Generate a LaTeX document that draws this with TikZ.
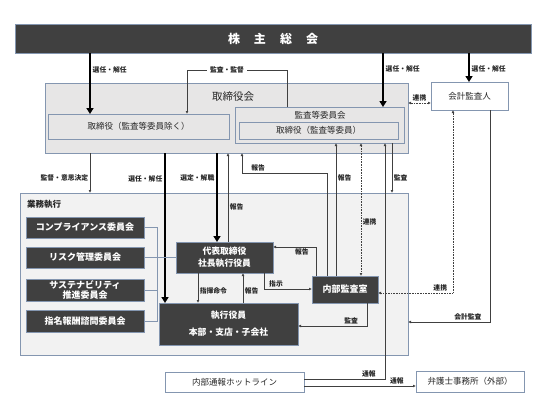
\documentclass[tikz,border=0pt]{standalone}
\usepackage{fontspec}
\setmainfont{Noto Sans CJK JP}
\usetikzlibrary{arrows.meta}
\definecolor{dark}{HTML}{404040}
\definecolor{bord}{HTML}{8496B0}
\definecolor{bfill}{HTML}{E7E6E6}
\definecolor{efill}{HTML}{F2F2F2}
\definecolor{ln}{HTML}{404040}
\definecolor{txt}{HTML}{262626}
\begin{document}
\begin{tikzpicture}[x=1pt,y=-1pt,
  box/.style={draw=bord, line width=0.8pt, anchor=north west, inner sep=0pt, outer sep=0pt,
    text=txt, font=\fontsize{8.5}{10}\selectfont, align=center},
  darkbox/.style={box, fill=dark, text=white, font=\fontsize{9}{10.5}\selectfont\bfseries},
  lbl/.style={font=\fontsize{6.8}{7}\selectfont\bfseries, text=txt, inner sep=1.5pt},
  conn/.style={draw=ln, line width=0.6pt, -{Latex[length=3pt,width=2.8pt]}},
  dconn/.style={draw=ln, line width=0.6pt, dash pattern=on 0.8pt off 0.8pt, {Latex[length=3pt,width=2.8pt]}-{Latex[length=3pt,width=2.8pt]}},
  thk/.style={draw=black, line width=2.4pt, -{Triangle[length=6pt,width=7pt]}},
  cline/.style={draw=bord, line width=0.7pt}
]
\useasboundingbox (0,0) rectangle (553,415);
\foreach \v in {90,157,165,187,198,217,228,242,243,264,287,316,327,336,361,367,383,385,392,453,469,490}
  \coordinate (X\v) at (\v,0);
\foreach \v in {70,103,173,247,289,293,322,326,379,386}
  \coordinate (Y\v) at (0,\v);

% boxes
\node[darkbox, minimum width=516pt, minimum height=29pt, font=\fontsize{12}{14}\selectfont\bfseries] (gm) at (15,24) {};
\node[text=white, font=\fontsize{12}{14}\selectfont\bfseries] (gmt) at (273,38.5) {株\hspace{14pt}主\hspace{14pt}総\hspace{14pt}会};

\node[box, fill=bfill, minimum width=363pt, minimum height=70pt] (board) at (45,83) {};
\node[font=\fontsize{10.5}{12}\selectfont, text=txt] (boardt) at (233,97) {取締役会};
\node[box, fill=bfill, minimum width=181pt, minimum height=25pt] (dir) at (48,114) {取締役（監査等委員除く）};
\node[box, fill=bfill, minimum width=169pt, minimum height=36pt] (ac) at (235,107) {};
\node[font=\fontsize{8.5}{10}\selectfont, text=txt] (act) at (320,115) {監査等委員会};
\node[box, fill=bfill, minimum width=159pt, minimum height=17pt] (acdir) at (239,122) {取締役（監査等委員）};
\node[box, fill=white, minimum width=77pt, minimum height=28pt] (auditor) at (431,82) {会計監査人};

\node[box, fill=efill, minimum width=388pt, minimum height=162pt] (exec) at (20,193) {};
\node[font=\fontsize{8.5}{10}\selectfont\bfseries, text=txt, anchor=west, inner sep=0pt] (exect) at (27,204) {業務執行};

\node[darkbox, minimum width=118pt, minimum height=21pt] (c1) at (26,217) {コンプライアンス委員会};
\node[darkbox, minimum width=118pt, minimum height=21pt] (c2) at (26,247) {リスク管理委員会};
\node[darkbox, minimum width=118pt, minimum height=22pt] (c3) at (26,279) {サステナビリティ\\推進委員会};
\node[darkbox, minimum width=118pt, minimum height=22pt] (c4) at (26,310) {指名報酬諮問委員会};

\node[darkbox, minimum width=97pt, minimum height=31pt, font=\fontsize{8.8}{12}\selectfont\bfseries] (ceo) at (176,242) {代表取締役\\社長執行役員};
\node[darkbox, minimum width=139pt, minimum height=42pt, font=\fontsize{8.8}{17}\selectfont\bfseries] (eo) at (159,303) {執行役員\\本部・支店・子会社};
\node[darkbox, minimum width=66pt, minimum height=27pt] (ia) at (312,276) {内部監査室};

\node[box, fill=white, minimum width=139pt, minimum height=20pt] (hot) at (165,372) {内部通報ホットライン};
\node[box, fill=white, minimum width=108pt, minimum height=21pt] (law) at (416,371) {弁護士事務所（外部）};

% thick arrows from general meeting
\draw[thk] (gm.south -| X90) -- node[lbl, pos=0.28, anchor=west] (l1) {選任・解任} (dir.north -| X90);
\draw[thk] (gm.south -| X383) -- node[lbl, pos=0.3, anchor=west] (l2) {選任・解任} (ac.north -| X383);
\draw[thk] (gm.south -| X469) -- node[lbl, pos=0.55, anchor=west] (l3) {選任・解任} (auditor.north -| X469);

% audit & supervise
\draw[conn] (ac.north -| X287) -- (X287 |- Y70) -- node[lbl, pos=0.6, fill=white, inner sep=3pt] (l4) {監査・監督} (X187 |- Y70) -- (dir.north -| X187);

% board <-> auditor
\draw[dconn] (board.east |- Y103) -- node[lbl, midway, anchor=south] (l5) {連携} (auditor.west |- Y103);

% board -> execution
\draw[conn] (board.south -| X90) -- node[lbl, pos=0.62, anchor=east] (l6) {監督・意思決定} (exec.north -| X90);
\draw[thk] (board.south -| X165) -- node[lbl, pos=0.17, anchor=east] (l7) {選任・解任} (eo.north -| X165);
\draw[thk] (board.south -| X217) -- node[lbl, pos=0.28, anchor=east] (l8) {選定・解職} (ceo.north -| X217);
\draw[conn] (ceo.north -| X228) -- node[lbl, pos=0.39, anchor=west] (l9) {報告} (board.south -| X228);
\draw[conn] (ia.north -| X327) -- (X327 |- Y173) -- node[lbl, pos=0.81, anchor=south] (l10) {報告} (X242 |- Y173) -- (board.south -| X242);
\draw[conn] (ia.north -| X336) -- node[lbl, pos=0.74, anchor=west] (l11) {報告} (ac.south -| X336);
\draw[dconn] (ia.north -| X361) -- node[lbl, pos=0.41, anchor=west] (l12) {連携} (ac.south -| X361);
\draw[conn] (hot.east |- Y379) -- node[lbl, pos=0.8, anchor=south] (l13) {通報} (X385 |- Y379) -- (ac.south -| X385);
\draw[conn] (ac.south -| X392) -- node[lbl, pos=0.7, anchor=west] (l14) {監査} (exec.north -| X392);

% auditor connections
\draw[dconn] (auditor.south -| X453) -- (X453 |- Y293) -- node[lbl, pos=0.17, anchor=south] (l15) {連携} (ia.east |- Y293);
\draw[conn] (auditor.south -| X490) -- (X490 |- Y322) -- node[lbl, pos=0.27, anchor=south] (l16) {会計監査} (exec.east |- Y322);

% committees
\draw[cline] (c1.east) -- (X157 |- c1.east) -- (X157 |- c4.east) -- (c4.east);
\draw[cline] (c3.east) -- (X157 |- c3.east);
\draw[cline] (c2.east) -- (ceo.west |- c2.east);

% execution internals
\draw[conn] (ceo.south -| X198) -- node[lbl, pos=0.6, anchor=west] (l18) {指揮命令} (eo.north -| X198);
\draw[conn] (eo.north -| X243) -- node[lbl, pos=0.4, anchor=west] (l19) {報告} (ceo.south -| X243);
\draw[conn] (ia.north -| X316) -- (X316 |- Y247) -- node[lbl, pos=0.33, anchor=north] (l20) {報告} (ceo.east |- Y247);
\draw[conn] (ceo.south -| X264) -- (X264 |- Y289) -- node[lbl, pos=0.25, anchor=south] (l21) {指示} (ia.west |- Y289);
\draw[conn] (ia.south -| X367) -- (X367 |- Y326) -- node[lbl, pos=0.23, anchor=south] (l22) {監査} (eo.east |- Y326);

% hotline -> law firm
\draw[conn] (hot.east |- Y386) -- node[lbl, pos=0.83, anchor=south] (l23) {通報} (law.west |- Y386);
\end{tikzpicture}
\end{document}
